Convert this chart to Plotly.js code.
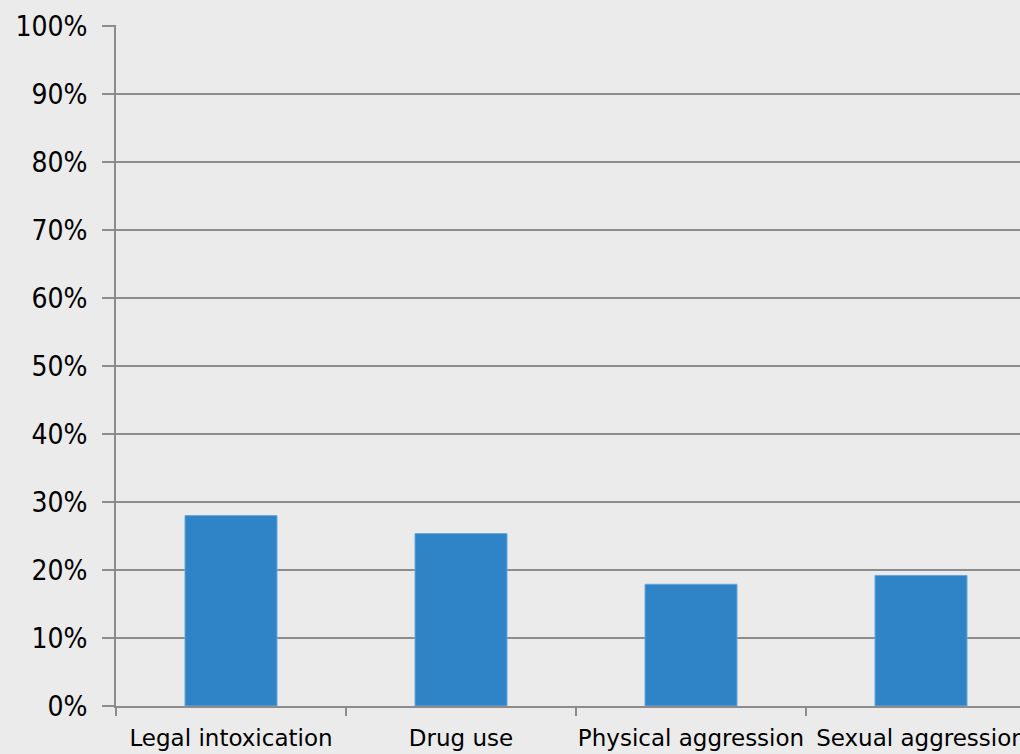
<!DOCTYPE html>
<html>
<head>
<meta charset="utf-8">
<script src="https://cdn.plot.ly/plotly-3.0.1.min.js"></script>
<style>
  html, body { margin: 0; padding: 0; overflow: hidden; background: #ebebeb; }
  #chart { width: 1040px; height: 754px; }
</style>
</head>
<body>
<div id="chart"></div>
<script>
const categories = ["Legal intoxication", "Drug use", "Physical aggression", "Sexual aggression"];
const values = [0.280, 0.2535, 0.179, 0.192];
const yTickValues = [0, 0.1, 0.2, 0.3, 0.4, 0.5, 0.6, 0.7, 0.8, 0.9, 1.0];
const yTickLabels = ["0%", "10%", "20%", "30%", "40%", "50%", "60%", "70%", "80%", "90%", "100%"];

const gridColor = "#8c8c8c";

Plotly.newPlot("chart", [{
  type: "bar",
  x: categories,
  y: values,
  marker: { color: "#2e84c6", line: { color: "#6aa6d8", width: 1 } },
  hoverinfo: "none"
}], {
  width: 1040,
  height: 754,
  margin: { l: 116, r: 4, t: 25, b: 48 },
  paper_bgcolor: "#ebebeb",
  plot_bgcolor: "#ebebeb",
  bargap: 0.6,
  showlegend: false,
  xaxis: {
    type: "category",
    showgrid: false,
    showline: true,
    linecolor: gridColor,
    linewidth: 2,
    ticks: "outside",
    tickson: "boundaries",
    ticklen: 8,
    tickwidth: 2,
    tickcolor: gridColor,
    tickangle: 0,
    ticklabelstandoff: 10,
    tickfont: { family: "DejaVu Sans", size: 23, color: "#000000" },
    zeroline: false
  },
  yaxis: {
    range: [0, 681 / 680],
    tickvals: yTickValues,
    ticktext: yTickLabels,
    showgrid: true,
    gridcolor: gridColor,
    gridwidth: 2,
    showline: true,
    linecolor: gridColor,
    linewidth: 2,
    ticks: "outside",
    ticklen: 12,
    tickwidth: 2,
    tickcolor: gridColor,
    ticklabelstandoff: 9,
    zeroline: false,
    tickfont: { family: "DejaVu Sans Condensed, DejaVu Sans", size: 28, color: "#000000" }
  }
}, { displayModeBar: false, staticPlot: true });
</script>
</body>
</html>
